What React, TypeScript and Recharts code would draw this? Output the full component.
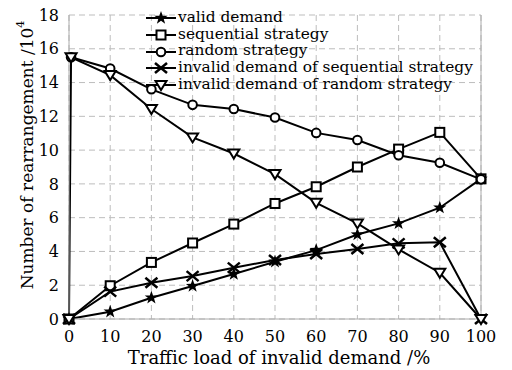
import React from 'react';
import {
  LineChart,
  Line,
  XAxis,
  YAxis,
  CartesianGrid,
  ReferenceLine,
} from 'recharts';

// traffic load of invalid demand (%)
const loads = [0, 0.5, 10, 20, 30, 40, 50, 60, 70, 80, 90, 100];

// number of rearrangement (x10^4)
const validDemand = [0, null, 0.43, 1.26, 1.95, 2.66, 3.39, 4.08, 5.0, 5.66, 6.59, 8.3];
const sequentialStrategy = [0, null, 1.97, 3.35, 4.5, 5.62, 6.84, 7.83, 9.0, 10.06, 11.05, 8.3];
const randomStrategy = [null, 15.5, 14.83, 13.6, 12.68, 12.43, 11.93, 11.02, 10.6, 9.7, 9.25, 8.27];
const invalidSequential = [0, null, 1.62, 2.15, 2.54, 3.04, 3.49, 3.85, 4.14, 4.48, 4.54, 0];
const invalidRandom = [0, 15.5, 14.44, 12.43, 10.75, 9.8, 8.58, 6.88, 5.66, 4.12, 2.74, 0];

const xTicks = [0, 10, 20, 30, 40, 50, 60, 70, 80, 90, 100];
const yTicks = [0, 2, 4, 6, 8, 10, 12, 14, 16, 18];

const FONT = '"DejaVu Serif", serif';

type Shape = 'star' | 'square' | 'circle' | 'cross' | 'triangle';

const seriesList: { key: string; name: string; shape: Shape; values: (number | null)[] }[] = [
  { key: 'valid', name: 'valid demand', shape: 'star', values: validDemand },
  { key: 'seq', name: 'sequential strategy', shape: 'square', values: sequentialStrategy },
  { key: 'rand', name: 'random strategy', shape: 'circle', values: randomStrategy },
  { key: 'invSeq', name: 'invalid demand of sequential strategy', shape: 'cross', values: invalidSequential },
  { key: 'invRand', name: 'invalid demand of random strategy', shape: 'triangle', values: invalidRandom },
];

const data = loads.map((load, i) => {
  const row: any = { load };
  seriesList.forEach((s) => {
    row[s.key] = s.values[i];
  });
  return row;
});

const marker = (shape: Shape, cx: number, cy: number, key?: any) => {
  switch (shape) {
    case 'star': {
      const pts: string[] = [];
      for (let i = 0; i < 10; i++) {
        const r = i % 2 === 0 ? 7 : 2.8;
        const a = -Math.PI / 2 + (i * Math.PI) / 5;
        pts.push(`${cx + r * Math.cos(a)},${cy + r * Math.sin(a)}`);
      }
      return <polygon key={key} points={pts.join(' ')} fill="#000" />;
    }
    case 'square':
      return <rect key={key} x={cx - 4.5} y={cy - 4.5} width={9} height={9} fill="#fff" stroke="#000" strokeWidth={2} />;
    case 'circle':
      return <circle key={key} cx={cx} cy={cy} r={4.3} fill="#fff" stroke="#000" strokeWidth={2} />;
    case 'cross':
      return (
        <g key={key} stroke="#000" strokeWidth={2.5}>
          <line x1={cx - 6} y1={cy - 5} x2={cx + 6} y2={cy + 5} />
          <line x1={cx - 6} y1={cy + 5} x2={cx + 6} y2={cy - 5} />
        </g>
      );
    default:
      return (
        <polygon
          key={key}
          points={`${cx - 5.5},${cy - 4} ${cx + 5.5},${cy - 4} ${cx},${cy + 5}`}
          fill="#fff"
          stroke="#000"
          strokeWidth={2}
        />
      );
  }
};

const makeDot = (shape: Shape) => (props: any) => {
  const { cx, cy, index, value } = props;
  if (value == null || cx == null || cy == null) return <g key={`e-${index}`} />;
  return marker(shape, cx, cy, `d-${index}`);
};

const LegendBox: React.FC = () => (
  <div
    style={{
      position: 'absolute',
      left: 145,
      top: 9,
      fontFamily: FONT,
      fontSize: 15.4,
      lineHeight: '16.7px',
      color: '#000',
    }}
  >
    {seriesList.map((s) => (
      <div key={s.key} style={{ display: 'flex', alignItems: 'center', whiteSpace: 'nowrap', height: 16.7 }}>
        <svg width={32} height={16} style={{ marginRight: 1 }}>
          <line x1={1} y1={9} x2={31} y2={9} stroke="#000" strokeWidth={2} />
          {marker(s.shape, 16, 9)}
        </svg>
        <span>{s.name}</span>
      </div>
    ))}
  </div>
);

const YLabel = () => (
  <text
    x={27}
    y={155}
    transform="rotate(-90 27 155)"
    textAnchor="middle"
    dominantBaseline="central"
    fill="#000"
    fontSize={17}
    fontFamily={FONT}
  >
    Number of rearrangement /10
    <tspan fontSize={11} dy={-7}>4</tspan>
  </text>
);

const App: React.FC = () => {
  return (
    <div style={{ position: 'absolute', left: 0, top: 0, width: 512, height: 370, background: '#fff' }}>
      <LineChart
        width={512}
        height={370}
        data={data}
        margin={{ top: 15, right: 31, bottom: 0, left: 0 }}
      >
        <CartesianGrid stroke="#bdbdbd" strokeDasharray="6 4" />
        <XAxis
          dataKey="load"
          type="number"
          domain={[0, 100]}
          ticks={xTicks}
          interval={0}
          tickLine={false}
          axisLine={{ stroke: '#aaa' }}
          height={51}
          tick={{ fill: '#000', fontSize: 16, fontFamily: FONT, dy: 4 }}
          label={{
            value: 'Traffic load of invalid demand /%',
            position: 'insideBottom',
            offset: 6,
            fill: '#000',
            fontSize: 18,
            fontFamily: FONT,
            dx: 4,
          }}
        />
        <YAxis
          type="number"
          domain={[0, 18]}
          ticks={yTicks}
          tickLine={false}
          axisLine={{ stroke: '#aaa' }}
          width={69}
          interval={0}
          tick={{ fill: '#000', fontSize: 16, fontFamily: FONT, dx: -2 }}
          label={() => <YLabel />}
        />
        <ReferenceLine x={100} stroke="#aaa" />
        {seriesList.map((s) => (
          <Line
            key={s.key}
            dataKey={s.key}
            name={s.name}
            stroke="#000"
            strokeWidth={2}
            dot={makeDot(s.shape)}
            activeDot={false}
            isAnimationActive={false}
            connectNulls
          />
        ))}
      </LineChart>
      <LegendBox />
    </div>
  );
};

export default App;
